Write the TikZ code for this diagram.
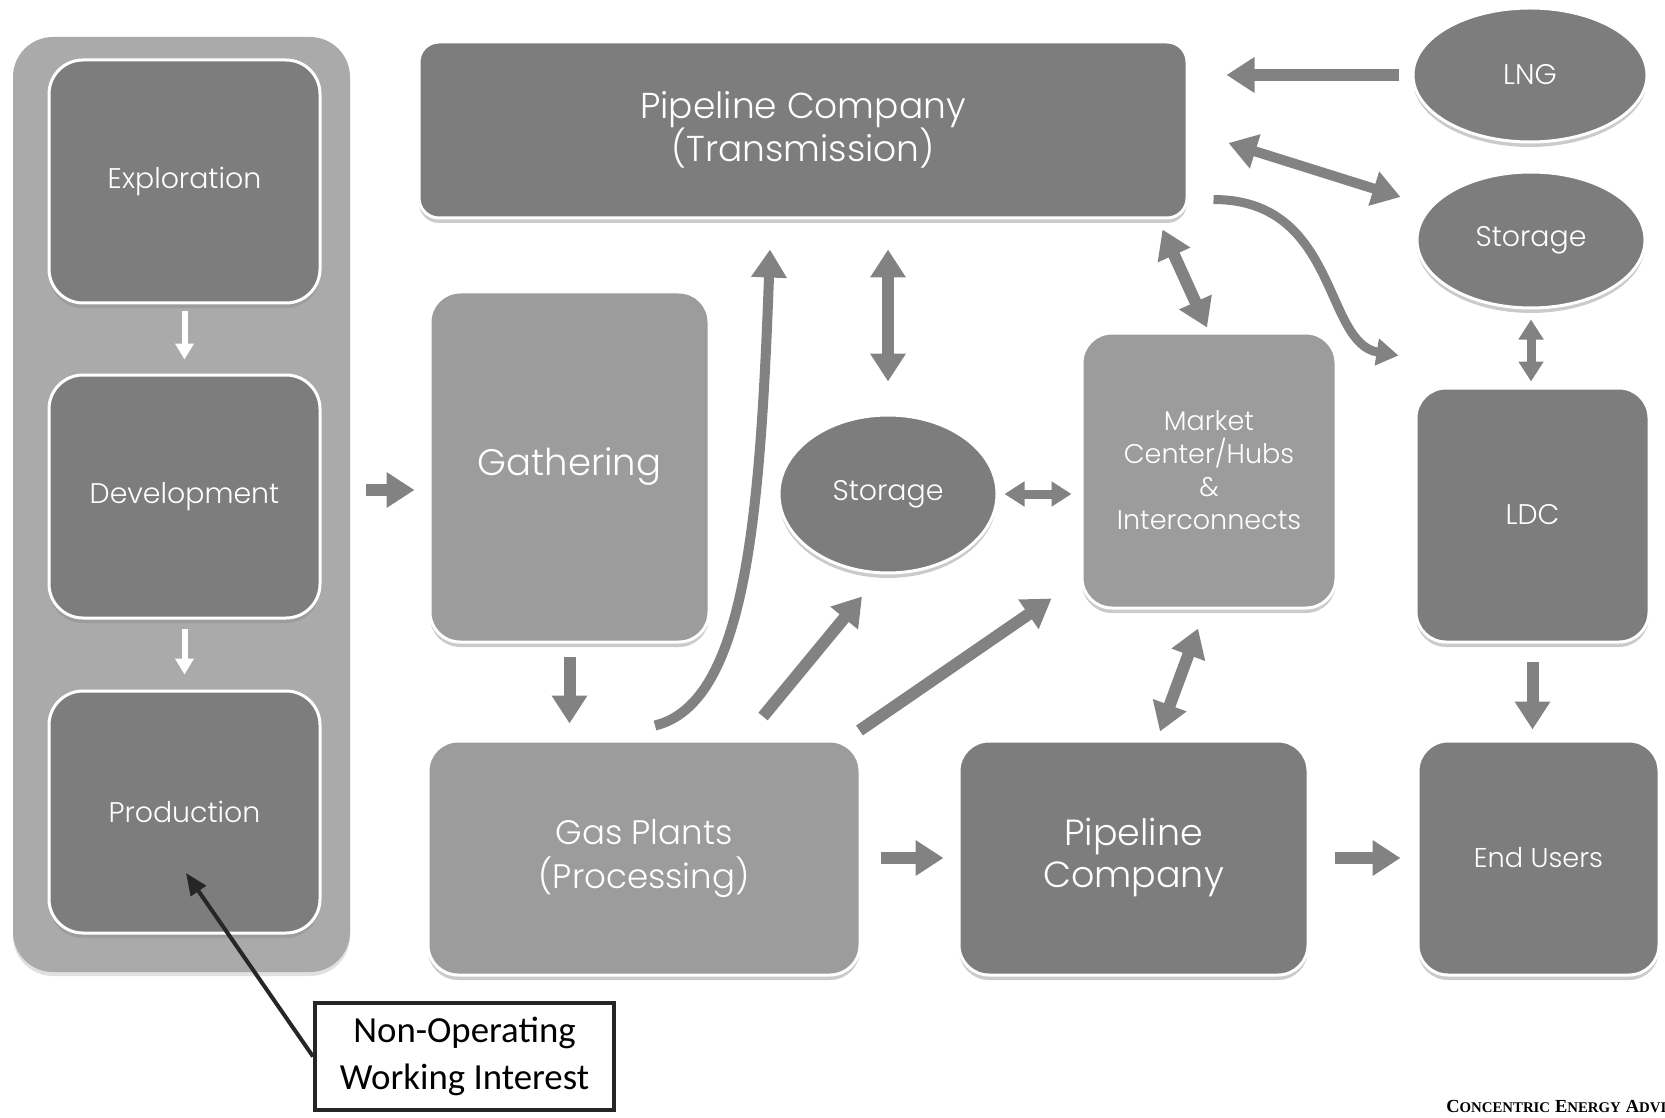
\documentclass[tikz,border=0pt]{standalone}
\usepackage{fontspec}
\setmainfont{Poppins}[UprightFont=* Light]
\newfontfamily\calib{Carlito}
\newfontfamily\tnr{Liberation Serif}
\usetikzlibrary{arrows.meta,shapes.geometric,shadows,calc}

\definecolor{dk}{RGB}{125,125,125}
\definecolor{lt}{RGB}{156,156,156}
\definecolor{pn}{RGB}{170,170,170}
\definecolor{ar}{RGB}{130,130,130}
\newcommand\myfsc[2]{{\fontsize{9.2}{10}\selectfont #1}{\fontsize{7.4}{9}\selectfont #2}}

\tikzset{
 boxbase/.style={draw=white, line width=1.5pt, text=white, align=center,
   drop shadow={shadow xshift=0pt,shadow yshift=-2.5pt,fill=black!45,opacity=.45}},
 dbox/.style={boxbase, rectangle, rounded corners=15pt, fill=dk},
 lbox/.style={boxbase, rectangle, rounded corners=15pt, fill=lt},
 oval/.style={boxbase, ellipse, fill=dk, inner sep=0pt},
 panelbox/.style={rectangle, rounded corners=20pt, fill=pn, draw=none,
   drop shadow={shadow xshift=0pt,shadow yshift=-2pt,fill=black!30,opacity=.4}},
 smalltxt/.style={font=\fontsize{14.2}{17}\selectfont},
 bigtxt/.style={font=\fontsize{18}{21.5}\selectfont},
 garrow/.style={draw=ar, line width=6pt, -{Triangle[length=14pt,width=17pt]}},
 gdouble/.style={draw=ar, line width=6pt, {Triangle[length=14pt,width=17pt]}-{Triangle[length=14pt,width=17pt]}},
 gsmall/.style={draw=ar, line width=4.5pt, {Triangle[length=10pt,width=12pt]}-{Triangle[length=10pt,width=12pt]}},
 gthin/.style={draw=ar, line width=4.5pt, -{Triangle[length=11pt,width=13pt]}},
 warrow/.style={draw=white, line width=3pt, -{Triangle[length=8pt,width=9pt]}},
 karrow/.style={draw=black!85, line width=2pt, -{Triangle[length=11pt,width=9pt]}},
}

\begin{document}
\begin{tikzpicture}[x=0.5pt,y=-0.5pt]
\useasboundingbox (0,0) rectangle (1665,1118);

% left panel
\node[panelbox, minimum width=168.5pt, minimum height=467.5pt] (panel) at (181.5,504.5) {};
\node[dbox, rounded corners=17pt, minimum width=135.5pt, minimum height=121.5pt, smalltxt] (expl) at (184.5,181.5) {Exploration};
\node[dbox, rounded corners=17pt, minimum width=135.5pt, minimum height=121.5pt, smalltxt] (dev) at (184.5,496.5) {Development};
\node[dbox, rounded corners=17pt, minimum width=135.5pt, minimum height=121pt, smalltxt] (prod) at (184.5,812) {Production};

% middle and right
\node[dbox, rounded corners=10pt, minimum width=384pt, minimum height=88pt, bigtxt] (pipe) at (803,130) {Pipeline Company\\(Transmission)};
\node[oval, minimum width=117pt, minimum height=67pt, smalltxt] (lng) at (1530,75) {LNG};
\node[oval, minimum width=114pt, minimum height=68pt, smalltxt] (stor2) at (1531,240) {Storage};
\node[lbox, minimum width=139.5pt, minimum height=175pt, font=\fontsize{18.5}{22}\selectfont] (gath) at (569.5,467) {Gathering};
\node[oval, minimum width=109pt, minimum height=79pt, smalltxt] (stor1) at (888,494) {Storage};
\node[lbox, minimum width=127pt, minimum height=137.5pt, font=\fontsize{13.5}{16.5}\selectfont] (market) at (1209,470.5) {Market\\Center/Hubs\\\&\\Interconnects};
\node[dbox, minimum width=116.5pt, minimum height=127pt, smalltxt] (ldc) at (1532.5,515) {LDC};
\node[lbox, minimum width=216pt, minimum height=117pt, font=\fontsize{17}{22}\selectfont] (gas) at (644,858) {Gas Plants\\(Processing)};
\node[dbox, minimum width=174.5pt, minimum height=117pt, font=\fontsize{18.2}{21}\selectfont] (pipeco) at (1133.5,858) {Pipeline\\Company};
\node[dbox, minimum width=120.5pt, minimum height=117pt, font=\fontsize{13.6}{16}\selectfont] (endu) at (1538.5,858) {End Users};

% note
\node[draw=black!85, line width=2pt, fill=white, minimum width=149.5pt, minimum height=53.5pt, font=\calib\fontsize{18.4}{23.5}\selectfont, align=center] (note) at (464.5,1056.5) {Non-Operating\\Working Interest};

% white arrows
\draw[warrow, shorten <=3.5pt, shorten >=7pt] (expl) -- (dev);
\draw[warrow, shorten <=4.5pt, shorten >=7.5pt] (dev) -- (prod);

% gray arrows
\coordinate (mid1) at ($(dev.east)+(0,-6.5)$);
\draw[garrow, shorten <=8pt, shorten >=7pt] (panel.east |- mid1) -- (gath.west |- mid1);
\draw[garrow, shorten <=6.5pt, shorten >=8pt] (gath.south) -- (gath.south |- gas.north);
\draw[garrow, line width=5pt] ($(gas.north)+(11,-14)$) .. controls ($(gas.north)+(101,-36)$) and ($(pipe.south)+(-43,302)$) .. ($(pipe.south)+(-33,30)$);
\draw[gdouble, shorten <=15pt, shorten >=16pt] (stor1.north |- pipe.south) -- (stor1.north);
\draw[garrow] ($(gas.north)+(119,-23)$) -- ($(stor1.south)+(-26,22)$);
\draw[garrow] ($(gas.north east)+(-2,-9)$) -- ($(market.south west)+(-29,-11)$);
\draw[gsmall, shorten <=3pt, shorten >=4.5pt] (stor1.east) -- (stor1.east -| market.west);
\draw[gdouble] ($(pipe.south east)+(-26,10)$) -- ($(market.north)+(-2,-4)$);
\draw[gdouble] ($(market.south)+(-11,19)$) -- ($(pipeco.north)+(26.5,-8)$);
\draw[garrow, shorten <=9.5pt, shorten >=7pt] (gas.east) -- (pipeco.west);
\draw[garrow, shorten <=12.5pt, shorten >=8pt] (pipeco.east) -- (endu.west);
\draw[garrow, shorten <=9pt, shorten >=5pt] (ldc.south) -- (ldc.south |- endu.north);
\draw[gsmall, shorten <=5pt, shorten >=2.5pt] (stor2.south) -- (stor2.south |- ldc.north);
\draw[garrow, shorten <=6.5pt, shorten >=19pt] (lng.west) -- (lng.west -| pipe.east);
\draw[gdouble, line width=5pt] ($(pipe.east)+(40,13)$) -- ($(stor2.west)+(-15,-43)$);
\draw[gthin] ($(pipe.south east)+(25,-20)$) .. controls ($(pipe.south east)+(150,-20)$) and ($(ldc.north west)+(-91,-43)$) .. ($(ldc.north west)+(-16,-31)$);

% pointer to production
\draw[karrow] (note.west) -- ($(prod.center)+(1.5,61)$);

% footer
\begin{scope}
\clip (0,0) rectangle (1665,1118);
\node[anchor=base west, inner sep=0pt, font=\tnr\bfseries] (foot) at (1446,1112) {\myfsc{C}{ONCENTRIC} \myfsc{E}{NERGY} \myfsc{A}{DVISORS}};
\end{scope}
\end{tikzpicture}
\end{document}
